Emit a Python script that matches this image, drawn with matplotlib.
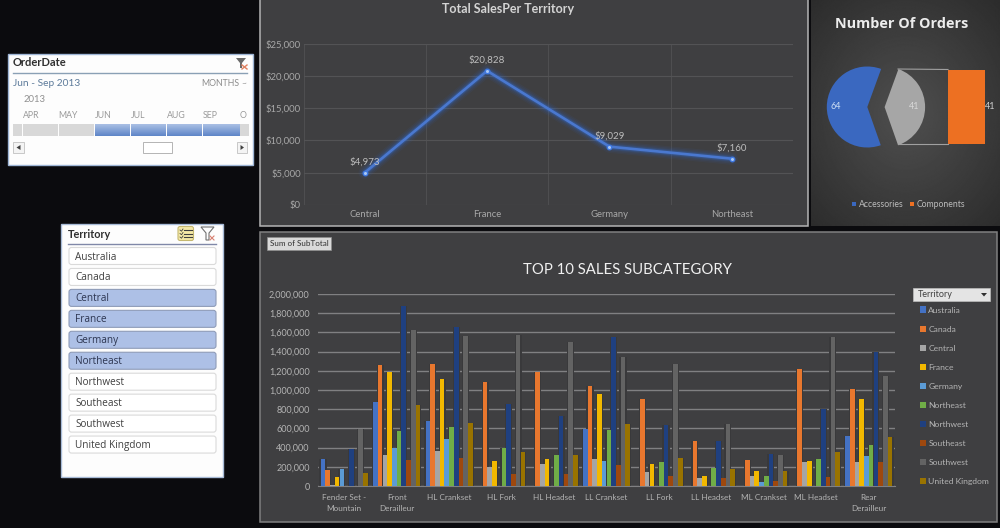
import numpy as np
import matplotlib
matplotlib.use("Agg")
import matplotlib.pyplot as plt
from matplotlib.patches import Rectangle, FancyBboxPatch, Polygon
from matplotlib.ticker import FuncFormatter

plt.rcParams['font.family'] = ['Lato', 'DejaVu Sans']

# ---------- data ----------
line_categories = ["Central", "France", "Germany", "Northeast"]
line_values = [4973, 20828, 9029, 7160]
line_labels = ["$4,973", "$20,828", "$9,029", "$7,160"]

order_categories = ["Accessories", "Components"]
order_values = [64, 41]

subcategories = ["Fender Set -\nMountain", "Front\nDerailleur", "HL Crankset", "HL Fork", "HL Headset",
                 "LL Crankset", "LL Fork", "LL Headset", "ML Crankset", "ML Headset", "Rear\nDerailleur"]
territories = ["Australia", "Canada", "Central", "France", "Germany", "Northeast",
               "Northwest", "Southeast", "Southwest", "United Kingdom"]
territory_colors = ["#4472c4", "#e8772e", "#a5a5a5", "#f2b800", "#5b9bd5", "#70ad47",
                    "#1f4080", "#9e480e", "#636363", "#997300"]
australia = [280, 880, 680, 0, 0, 590, 0, 0, 0, 0, 520]
canada = [170, 1260, 1270, 1080, 1190, 1040, 910, 470, 270, 1220, 1010]
central = [10, 320, 360, 200, 230, 280, 150, 80, 100, 255, 255]
france = [90, 1190, 1110, 260, 280, 960, 228, 100, 160, 265, 905]
germany = [175, 400, 490, 0, 0, 260, 0, 0, 45, 0, 310]
northeast = [0, 570, 610, 400, 320, 580, 245, 185, 100, 285, 430]
northwest = [390, 1870, 1660, 850, 730, 1550, 640, 470, 335, 800, 1400]
southeast = [0, 270, 290, 130, 130, 220, 100, 80, 55, 90, 255]
southwest = [590, 1620, 1560, 1570, 1500, 1340, 1270, 650, 325, 1555, 1150]
united_kingdom = [135, 840, 660, 350, 320, 650, 290, 175, 160, 350, 510]
bar_series = [australia, canada, central, france, germany, northeast,
              northwest, southeast, southwest, united_kingdom]

timeline_months = ["APR", "MAY", "JUN", "JUL", "AUG", "SEP", "O"]
slicer_items = territories
slicer_selected = ["Central", "France", "Germany", "Northeast"]

# ---------- helpers ----------
W, H = 1000, 528
BG = "#0b0b0e"
PANEL = "#3f3f41"
TXT = "#b4b4b4"
fig = plt.figure(figsize=(W/100, H/100), dpi=100, facecolor=BG)

def axes_px(x0, y0, x1, y1, **kw):
    return fig.add_axes([x0/W, 1-y1/H, (x1-x0)/W, (y1-y0)/H], **kw)

bgax = axes_px(0, 0, W, H, zorder=0)
bgax.set_xlim(0, W); bgax.set_ylim(H, 0); bgax.axis("off")
top = axes_px(0, 0, W, H, zorder=10)
top.set_xlim(0, W); top.set_ylim(H, 0); top.axis("off"); top.patch.set_alpha(0)

def rect(ax, x0, y0, x1, y1, fc, ec="none", lw=0, **kw):
    ax.add_patch(Rectangle((x0, y0), x1-x0, y1-y0, fc=fc, ec=ec, lw=lw, **kw))

# panels
rect(bgax, 260, -2, 808, 226, PANEL, "#b4b4b4", 1.1)
rect(bgax, 260, 232, 997, 522, PANEL, "#808080", 1.1)

yy, xx = np.mgrid[0:228, 0:190]
d = np.sqrt(((xx-95)/130.0)**2 + ((yy-115)/150.0)**2)
g = np.clip(0.31 - 0.13*d, 0, 1)
bgax.imshow(g, extent=(811, 1000, 226, 0), cmap="gray", vmin=0, vmax=1, aspect="auto", zorder=1)
bgax.set_xlim(0, W); bgax.set_ylim(H, 0)

# ---------- line chart ----------
ax = axes_px(303.5, 44, 793, 204.7, zorder=2)
ax.patch.set_alpha(0)
x = np.arange(len(line_values))
for lw, a in [(9, .06), (7, .08), (5, .12), (3.5, .25)]:
    ax.plot(x, line_values, color="#2f6fe0", lw=lw, alpha=a, solid_capstyle="round")
ax.plot(x, line_values, color="#4a78cf", lw=1.9)
ax.plot(x, line_values, "o", color="#a8c8f5", ms=3.2, mec="#3f78e0", mew=1)
ax.set_xlim(-.5, 3.5); ax.set_ylim(0, 25000)
ax.set_yticks(range(0, 25001, 5000))
ax.yaxis.set_major_formatter(FuncFormatter(lambda v, p: f"${v:,.0f}"))
ax.set_xticks(x, line_categories)
ax.set_xticks(np.arange(-.5, 4), minor=True)
ax.grid(True, which="major", axis="y", color="#535355", lw=.8)
ax.grid(True, which="minor", axis="x", color="#4e4e50", lw=.8)
ax.set_axisbelow(True)
ax.tick_params(axis="both", which="both", length=0, labelsize=6.8, labelcolor="#a8a8a8")
ax.tick_params(axis="y", pad=2)
ax.tick_params(axis="x", pad=4)
for s in ax.spines.values():
    s.set_visible(False)
for xi, v, t in zip(x, line_values, line_labels):
    ax.annotate(t, (xi, v), xytext=(0, 4.5), textcoords="offset points", ha="center", va="bottom",
                fontsize=7, color="#bdbdbd")
top.text(508, 9, "Total SalesPer Territory", ha="center", va="center", fontsize=9, fontweight="bold", color="#d4d4d4")

# ---------- orders chart ----------
ORANGE, BLUE = "#ed7022", "#3a68c0"
pa = axes_px(815, 57, 925, 157, zorder=3)
pa.pie(order_values, colors=[BLUE, "#a6a6a6"], startangle=70, radius=40.5,
       center=(867.3, 0), frame=True, explode=[0, 17.3], wedgeprops=dict(lw=0))
pa.set_xlim(815, 925); pa.set_ylim(-50, 50); pa.set_aspect("auto"); pa.axis("off")

ba = axes_px(948, 69.5, 985, 143.5, zorder=3)
ba.bar([0], [order_values[1]], width=1, color=ORANGE)
ba.set_xlim(-.5, .5); ba.set_ylim(0, order_values[1]); ba.axis("off")
ba.text(.64, order_values[1]/2, str(order_values[1]), ha="center", va="center", fontsize=6.5, color="#d0d0d0", clip_on=False)
top.plot([898, 948], [69, 69.5], color="#a0a0a0", lw=.8)
top.plot([898, 948], [143.5, 143.5], color="#a0a0a0", lw=.8)
top.text(836, 106.5, str(order_values[0]), color="#cfe0f5", fontsize=6.5, ha="center", va="center")
top.text(914.5, 106.5, str(order_values[1]), color="#d8d8d8", fontsize=6.5, ha="center", va="center")
top.text(902, 24.5, "Number Of Orders", ha="center", va="center", fontsize=10.4, fontweight="bold", color="#ececec",
         family=["Open Sans", "DejaVu Sans"])
rect(top, 852, 202, 856, 206, "#3a68c0")
top.text(858.5, 204.3, order_categories[0], fontsize=6.2, color="#bcbcbc", va="center")
rect(top, 910, 202, 914, 206, ORANGE)
top.text(916.5, 204.3, order_categories[1], fontsize=6.2, color="#bcbcbc", va="center")

# ---------- bar chart ----------
bx = axes_px(318, 294, 895, 486, zorder=2)
bx.patch.set_alpha(0)
n = len(bar_series)
bw = 0.09
for i, (vals, c, name) in enumerate(zip(bar_series, territory_colors, territories)):
    pos = np.arange(len(subcategories)) + (i-(n-1)/2)*bw
    heights = np.array(vals)*1000
    # dark halo behind the bars, as the reference's bevel shadow
    bx.bar(pos, heights, width=bw*1.5, color="#39393b", lw=0, zorder=2)
    bx.bar(pos, heights, width=bw*.98, color=c, lw=0, label=name, zorder=3)
bx.set_xlim(-.5, 10.5); bx.set_ylim(0, 2000000)
bx.set_yticks(range(0, 2000001, 200000))
bx.yaxis.set_major_formatter(FuncFormatter(lambda v, p: f"{v:,.0f}"))
bx.set_xticks(np.arange(len(subcategories)), subcategories, linespacing=1.55)
bx.grid(True, axis="y", color="#808082", lw=1)
bx.set_axisbelow(True)
bx.tick_params(axis="both", length=0, labelcolor=TXT)
bx.tick_params(axis="y", pad=6, labelsize=6.5)
bx.tick_params(axis="x", pad=6, labelsize=5.9)
for s in bx.spines.values():
    s.set_visible(False)
bx.spines["bottom"].set_visible(True); bx.spines["bottom"].set_color("#808082")
h, l = bx.get_legend_handles_labels()
leg = fig.legend(h, l, loc="upper left", bbox_to_anchor=(919.5/W, 1-306.5/H), frameon=False, fontsize=6.1,
                 handlelength=.75, handleheight=.75, handletextpad=.3, labelspacing=1.42, borderpad=0, borderaxespad=0,
                 labelcolor=TXT)
top.text(627, 269.5, "TOP 10 SALES SUBCATEGORY", ha="center", va="center", fontsize=10.7, color="#f0f0f0")
rect(top, 267, 237, 331, 250, "#d9d9d9", "#8c8c8c", .5)
top.text(299, 243.3, "Sum of SubTotal", ha="center", va="center", fontsize=5.8, color="#303030")
rect(top, 913, 288, 990, 301, "#e4e4e4", "#bdbdbd", .5)
top.text(918, 294.5, "Territory", ha="left", va="center", fontsize=6.5, color="#404040")
top.add_patch(Polygon([[981, 293], [987, 293], [984, 296.5]], fc="#303030"))

# ---------- timeline slicer ----------
rect(top, 8, 54, 253, 165, "#fdfdfd", "#9fb6d6", 1)
top.text(13, 62.5, "OrderDate", fontsize=8, fontweight="bold", color="#303030", va="center")
top.plot([13, 247], [73, 73], color="#8aa0b5", lw=1)
top.text(13, 84, "Jun - Sep 2013", fontsize=7.3, color="#5c7a9a", va="center")
top.text(201, 84, "MONTHS", fontsize=6.3, color="#8c8c8c", va="center")
top.text(241, 84, "~", fontsize=6, color="#8c8c8c", va="center")
top.text(24, 100, "2013", fontsize=6.8, color="#909090", va="center")
month_x = [31, 68, 103, 138, 176, 210, 243]
for mx, m in zip(month_x, timeline_months):
    top.text(mx, 115.5, m, fontsize=6.3, color="#9a9a9a", ha="center", va="center")
for a, b in [(13, 22), (23, 57.5), (59, 94), (239, 249)]:
    rect(top, a, 124, b, 136, "#d8d8d8")
for a, b in [(95, 129.5), (130.5, 165.5), (166.5, 201.5), (202.5, 239)]:
    top.imshow(np.linspace(0.0, 1, 20).reshape(-1, 1), extent=(a, b, 136, 124), aspect="auto",
               cmap=matplotlib.colors.LinearSegmentedColormap.from_list("b", ["#a9bfe4", "#5f86c8"]), zorder=2)
top.set_xlim(0, W); top.set_ylim(H, 0)
rect(top, 13, 142, 24, 153, "#f4f4f4", "#c0c0c0", .6)
top.add_patch(Polygon([[20.5, 145], [20.5, 150], [16.5, 147.5]], fc="#404040"))
rect(top, 237, 142, 247, 153, "#f4f4f4", "#c0c0c0", .6)
top.add_patch(Polygon([[240.5, 145], [240.5, 150], [244, 147.5]], fc="#404040"))
rect(top, 142.5, 142, 172, 153, "#ffffff", "#b4b4b4", .7)
top.add_patch(Polygon([[236, 58], [246, 58], [242, 63], [242, 68], [240, 68], [240, 63]], fc="#6a6a6a"))
top.plot([242, 247], [65, 69], color="#e08060", lw=1)
top.plot([247, 242], [65, 69], color="#e08060", lw=1)

# ---------- territory slicer ----------
rect(top, 61, 224, 223, 477, "#fdfdfd", "#a9bcd8", 1)
top.text(68, 234, "Territory", fontsize=7.8, fontweight="bold", color="#303030", va="center")
top.plot([68, 216], [243.5, 243.5], color="#8088a8", lw=1)
for i, item in enumerate(slicer_items):
    y0 = 247.5 + 20.95*i
    sel = item in slicer_selected
    top.add_patch(FancyBboxPatch((69, y0), 147, 17, boxstyle="round,pad=0,rounding_size=2.5",
                                 fc="#adc0e6" if sel else "#ffffff", ec="#8f9cb8" if sel else "#dadada", lw=.8))
    top.text(75, y0+9.5, item, fontsize=7.2, color="#2c3550" if sel else "#404040", va="center",
             family=["Open Sans", "DejaVu Sans"])
top.add_patch(FancyBboxPatch((178, 226.5), 15.5, 14, boxstyle="round,pad=0,rounding_size=2",
                             fc="#f5e9a6", ec="#c5b870", lw=.8))
for yy_ in (230, 233.5, 237):
    top.plot([184, 192], [yy_, yy_], color="#404040", lw=.8)
    top.plot([180, 181.5, 183], [yy_, yy_+1.2, yy_-1], color="#404040", lw=.6)
top.add_patch(Polygon([[201, 227], [214, 227], [209, 233], [209, 240], [206, 240], [206, 233]],
                      fc="none", ec="#707070", lw=.8))
top.plot([210, 214], [236, 240], color="#d88070", lw=.8)
top.plot([214, 210], [236, 240], color="#d88070", lw=.8)

fig.savefig("out.png", dpi=100, facecolor=BG)
